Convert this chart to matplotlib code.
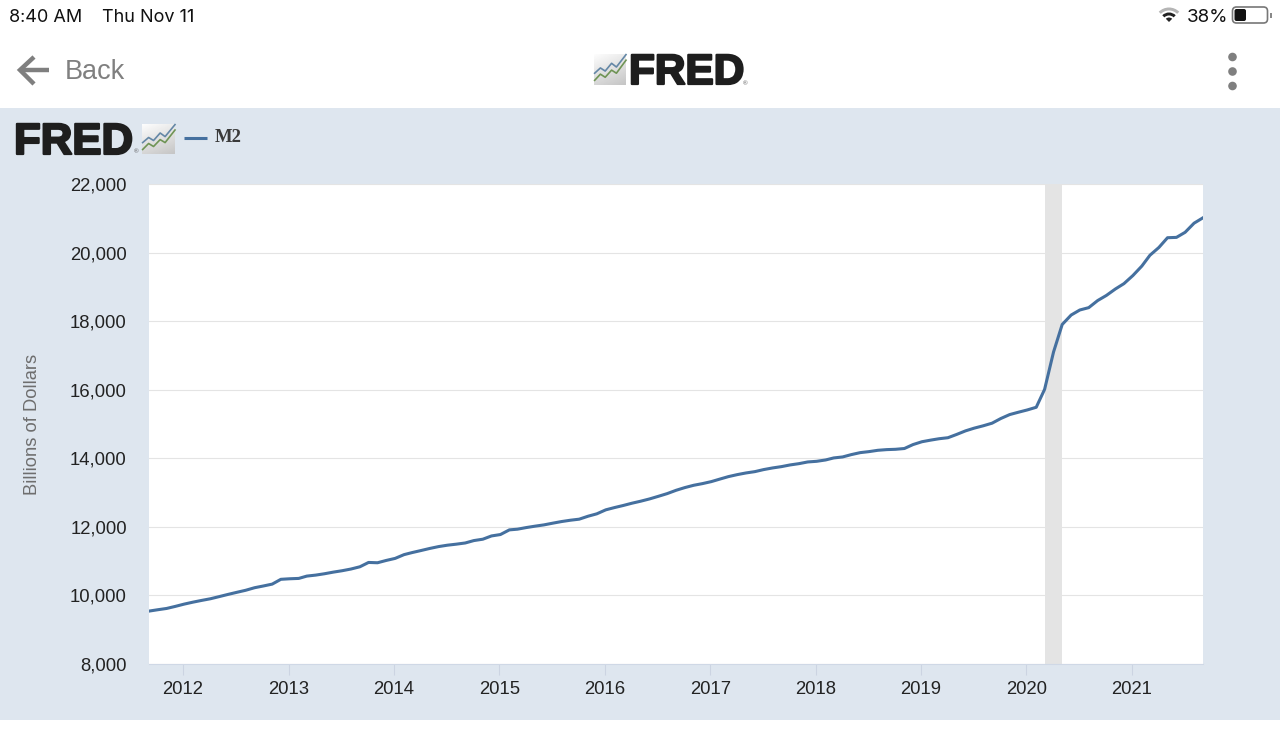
import matplotlib
matplotlib.use("Agg")
import matplotlib.pyplot as plt
import matplotlib.patheffects as pe
from matplotlib.patches import Rectangle, FancyBboxPatch, Circle, Wedge
import numpy as np
import pandas as pd

series_label = "M2"
y_label = "Billions of Dollars"
y_ticks = [8000, 10000, 12000, 14000, 16000, 18000, 20000, 22000]
x_tick_years = [2012, 2013, 2014, 2015, 2016, 2017, 2018, 2019, 2020, 2021]
start_month = "2011-09-01"
recession = ("2020-03-01", "2020-05-01")
m2_2011 = [9543, 9582, 9620, 9680]
m2_2012 = [9747, 9805, 9854, 9903, 9965, 10030, 10090, 10150, 10225, 10275, 10330, 10470]
m2_2013 = [10486, 10496, 10564, 10593, 10632, 10680, 10720, 10770, 10836, 10962, 10953, 11020]
m2_2014 = [11080, 11190, 11250, 11310, 11370, 11425, 11465, 11495, 11530, 11600, 11640, 11735]
m2_2015 = [11776, 11912, 11932, 11980, 12020, 12058, 12107, 12155, 12194, 12224, 12311, 12380]
m2_2016 = [12496, 12564, 12622, 12690, 12748, 12815, 12890, 12970, 13067, 13145, 13213, 13261]
m2_2017 = [13320, 13397, 13465, 13524, 13572, 13611, 13670, 13718, 13757, 13806, 13844, 13893]
m2_2018 = [13912, 13951, 14010, 14039, 14107, 14165, 14194, 14233, 14253, 14262, 14285, 14400]
m2_2019 = [14483, 14531, 14570, 14600, 14695, 14800, 14879, 14947, 15024, 15159, 15275, 15343]
m2_2020 = [15410, 15488, 16010, 17100, 17902, 18178, 18325, 18394, 18601, 18749, 18936, 19094]
m2_2021 = [19330, 19606, 19921, 20148, 20433, 20443, 20591, 20857, 21015]

values = (m2_2011 + m2_2012 + m2_2013 + m2_2014 + m2_2015 + m2_2016 +
          m2_2017 + m2_2018 + m2_2019 + m2_2020 + m2_2021)
dates = pd.date_range(start_month, periods=len(values), freq="MS")

BAND = "#dee6ef"
LINE = "#45709f"
W, H = 1280, 736
plt.rcParams["font.family"] = ["Liberation Sans", "DejaVu Sans"]
fig = plt.figure(figsize=(12.8, 7.36), dpi=100, facecolor="white")

# page chrome, pixel coordinates
bg = fig.add_axes([0, 0, 1, 1], zorder=0)
bg.set_xlim(0, W)
bg.set_ylim(H, 0)
bg.axis("off")
bg.add_patch(Rectangle((0, 108), W, 612, fc=BAND, ec="none"))

bg.text(9, 21.5, "8:40 AM", fontsize=13, family="Inter", color="#111111", va="baseline")
bg.text(102, 21.5, "Thu Nov 11", fontsize=13, family="Inter", color="#111111", va="baseline")
bg.text(1187, 21.5, "38%", fontsize=13.5, family="Inter", color="#111111", va="baseline")
# wifi icon (the y axis is inverted, so these angles point up on screen)
bg.add_patch(Wedge((1169, 22), 14.5, 225, 315, width=3, fc="#b5b5b5", ec="none"))
bg.add_patch(Wedge((1169, 22), 9.5, 225, 315, width=3, fc="#222222", ec="none"))
bg.add_patch(Wedge((1169, 22), 4.5, 225, 315, fc="#222222", ec="none"))
# battery icon
bg.add_patch(FancyBboxPatch((1232.5, 7), 35, 16, boxstyle="round,pad=0,rounding_size=4",
                            fc="white", ec="#777777", lw=1.2))
bg.add_patch(FancyBboxPatch((1234.5, 9), 11.5, 12, boxstyle="round,pad=0,rounding_size=2",
                            fc="#111111", ec="none"))
bg.add_patch(Rectangle((1270, 12.5), 1.5, 5, fc="#888888", ec="none"))

# back arrow
bg.plot([49, 20], [70, 70], color="#7f7f7f", lw=3.2, solid_capstyle="butt")
bg.plot([34, 20, 34], [57, 70, 84], color="#7f7f7f", lw=3.2, solid_capstyle="butt", solid_joinstyle="miter")
bg.text(65, 79, "Back", fontsize=19.5, color="#808080", va="baseline")

# menu dots
for cy in (57, 71.5, 86):
    bg.add_patch(Circle((1232.5, cy), 4.3, fc="#7f7f7f", ec="none"))


def fred_logo(x, base, size, reg_x, reg_y):
    bg.text(x, base, "FRED", fontsize=size, fontweight="bold", color="#1e1e1e",
            va="baseline", ha="left",
            path_effects=[pe.withStroke(linewidth=1.6, foreground="#1e1e1e")])
    bg.text(reg_x, reg_y, "®", fontsize=4.5, color="#555555", ha="center", va="center")


def fred_icon(x0, y0, w, h):
    ramp = np.linspace(0, 1, 24)
    shade = np.add.outer(ramp * 0.7, ramp * 0.3)
    bg.imshow(shade, extent=(x0, x0 + w, y0 + h, y0), origin="upper", cmap="gray_r",
              vmin=-0.05, vmax=4.6, aspect="auto", zorder=2, interpolation="bilinear")
    fx = [0.02, 0.2, 0.35, 0.55, 0.7, 1.0]
    top = [0.62, 0.45, 0.55, 0.3, 0.42, 0.02]
    low = [0.85, 0.65, 0.75, 0.52, 0.62, 0.2]
    bg.plot([x0 + a * w for a in fx], [y0 + b * h for b in top], color="#6487a6", lw=1.2, zorder=3)
    bg.plot([x0 + a * w for a in fx], [y0 + b * h for b in low], color="#6f9455", lw=1.2, zorder=3)


fred_logo(14, 154, 31.5, 136.5, 152)
fred_icon(142, 124, 33, 30)
fred_logo(629, 84, 30.5, 745, 84)
fred_icon(594, 54, 32, 31)
bg.set_xlim(0, W)
bg.set_ylim(H, 0)

# legend
bg.plot([184, 207], [137.5, 137.5], color=LINE, lw=2.2, solid_capstyle="butt")
bg.text(215, 142.5, series_label, fontsize=13.5, fontweight="bold", family="Liberation Serif",
        color="#3a3a3a", va="baseline")

bg.text(32.5, 424, y_label, fontsize=13.2, color="#6e6e6e", rotation=90, ha="center", va="center")

# chart
ax = fig.add_axes([149 / W, 1 - 664 / H, 1054 / W, 480 / H], zorder=1)
ax.set_facecolor("white")
ax.set_ylim(8000, 22000)
ax.set_xlim(pd.Timestamp(start_month), dates[-1])
ax.set_yticks(y_ticks)
ax.set_yticklabels([f"{v:,}" for v in y_ticks])
ax.set_xticks([pd.Timestamp(f"{y}-01-01") - pd.Timedelta(days=4) for y in x_tick_years])
ax.set_xticklabels([str(y) for y in x_tick_years])
ax.grid(axis="y", color="#e4e4e4", lw=0.8, zorder=1)
ax.grid(axis="x", visible=False)
ax.set_axisbelow(True)
ax.axvspan(pd.Timestamp(recession[0]), pd.Timestamp(recession[1]), fc="#e4e4e4", ec="none", zorder=2)
ax.plot(dates, values, color=LINE, lw=2.2, zorder=3, solid_joinstyle="round", clip_on=True)
for s in ("top", "left", "right"):
    ax.spines[s].set_visible(False)
ax.spines["bottom"].set_color("#cfd8e6")
ax.spines["bottom"].set_linewidth(0.8)
ax.tick_params(axis="y", length=0, pad=16, labelsize=13.3, labelcolor="#222222")
ax.tick_params(axis="x", length=8, width=0.8, color="#ccd4e2", pad=4.5, labelsize=13.3, labelcolor="#222222")

fig.savefig("out.png", dpi=100, facecolor="white")
